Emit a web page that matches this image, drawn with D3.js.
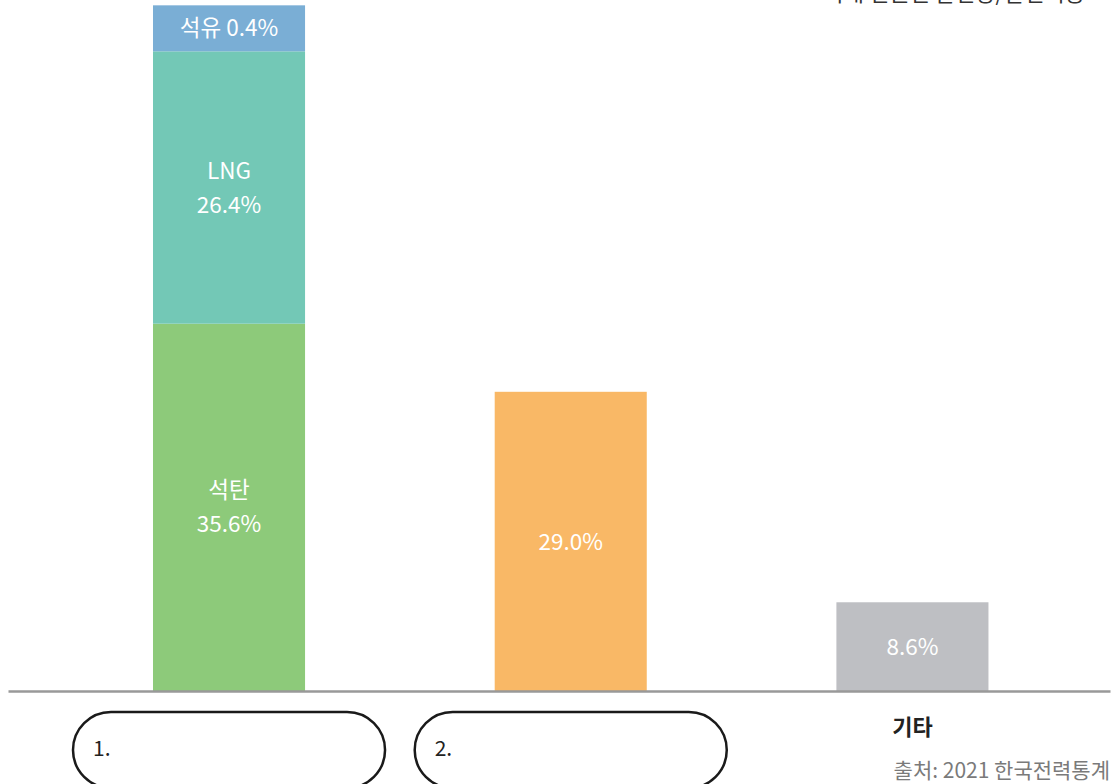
<!DOCTYPE html>
<html><head><meta charset="utf-8">
<script src="https://cdn.jsdelivr.net/npm/d3@7"></script>
<style>
html,body{margin:0;padding:0;background:#fff;}
svg{display:block;font-family:"Noto Sans CJK KR","Noto Sans",sans-serif;}
</style></head>
<body>
<svg id="chart" width="1114" height="784"></svg>
<script>
// ---- data ----
const categories = ["1.", "2.", "기타"];
const stackNames = ["석탄", "LNG", "석유"];
const stackValues = [35.6, 26.4, 0.4];           // category 1 (stacked)
const nuclearValue = [29.0];                    // category 2
const otherValue = [8.6];                       // 기타
const stackColors = ["#8dca7a", "#73c8b6", "#7aaed5"];
const singleColors = ["#f9b866", "#bebfc3"];
const titleText = "국내 전원별 발전량/발전비중";
const sourceText = "출처: 2021 한국전력통계";

const svg = d3.select("#chart");

const x = d3.scaleBand().domain(categories).range([8, 1110])
  .paddingInner(0.555).paddingOuter(0.39).align(0.544);
const y = d3.scaleLinear().domain([0, 66.2]).range([691, 8]);
const MIN_SEG = 46; // minimum drawn height so tiny segments can hold a label

// stacked segments
let cur = y(0);
const segs = stackValues.map((v, i) => {
  const hh = Math.max(y(0) - y(v), MIN_SEG);
  const s = {name: stackNames[i], v, top: cur - hh, h: hh, color: stackColors[i]};
  cur = s.top;
  return s;
});

const g = svg.append("g");
g.selectAll("rect.seg").data(segs).join("rect")
  .attr("x", x(categories[0])).attr("width", x.bandwidth())
  .attr("y", d => d.top).attr("height", d => d.h).attr("fill", d => d.color);

// single bars
const singles = [
  {cat: categories[1], v: nuclearValue[0], color: singleColors[0]},
  {cat: categories[2], v: otherValue[0], color: singleColors[1]}
];
g.selectAll("rect.single").data(singles).join("rect")
  .attr("x", d => x(d.cat)).attr("width", x.bandwidth())
  .attr("y", d => y(d.v)).attr("height", d => y(0) - y(d.v)).attr("fill", d => d.color);

// labels
const fmt = v => v.toFixed(1) + "%";
const lbl = svg.append("g").attr("fill", "#fff").attr("font-size", 22.5).attr("text-anchor", "middle");
segs.forEach(s => {
  const cx = x(categories[0]) + x.bandwidth() / 2;
  const cy = s.top + s.h / 2;
  if (s.h < 80) {
    lbl.append("text").attr("x", cx).attr("y", cy).attr("dy", "0.36em").text(s.name + " " + fmt(s.v));
  } else {
    lbl.append("text").attr("x", cx).attr("y", cy - 17).attr("dy", "0.36em").text(s.name);
    lbl.append("text").attr("x", cx).attr("y", cy + 17).attr("dy", "0.36em").text(fmt(s.v));
  }
});
singles.forEach(d => {
  lbl.append("text").attr("x", x(d.cat) + x.bandwidth() / 2)
    .attr("y", (y(d.v) + y(0)) / 2).attr("dy", "0.36em").text(fmt(d.v));
});

// axis baseline
const ax = svg.append("g").attr("transform", `translate(0,${y(0)})`)
  .call(d3.axisBottom(x).tickSize(0).tickSizeOuter(0).tickFormat(""));
ax.select(".domain").attr("stroke", "#999").attr("stroke-width", 2.5);

// category labels: pills for 1., 2.
categories.forEach((c, i) => {
  const cx = x(c) + x.bandwidth() / 2;
  if (i < 2) {
    const pw = x.bandwidth() + 160, ph = 76;
    svg.append("rect").attr("x", cx - pw / 2).attr("y", 712).attr("width", pw).attr("height", ph)
      .attr("rx", 38).attr("ry", 38).attr("fill", "none").attr("stroke", "#1a1a1a").attr("stroke-width", 2.5);
    svg.append("text").attr("x", cx - pw / 2 + 20).attr("y", 756).attr("font-size", 21)
      .attr("fill", "#222").text(c);
  } else {
    svg.append("text").attr("x", cx).attr("y", 735).attr("text-anchor", "middle")
      .attr("font-size", 22).attr("font-weight", "bold").attr("fill", "#222").text(c);
  }
});

// source
svg.append("text").attr("x", 1110).attr("y", 778).attr("text-anchor", "end")
  .attr("font-size", 21).attr("fill", "#7a7a7a").text(sourceText);

// title at top right (cut off at the top edge, as in the reference)
svg.append("text").attr("x", 1085).attr("y", 1).attr("text-anchor", "end")
  .attr("font-size", 22).attr("fill", "#333").text(titleText);
</script>
</body></html>
